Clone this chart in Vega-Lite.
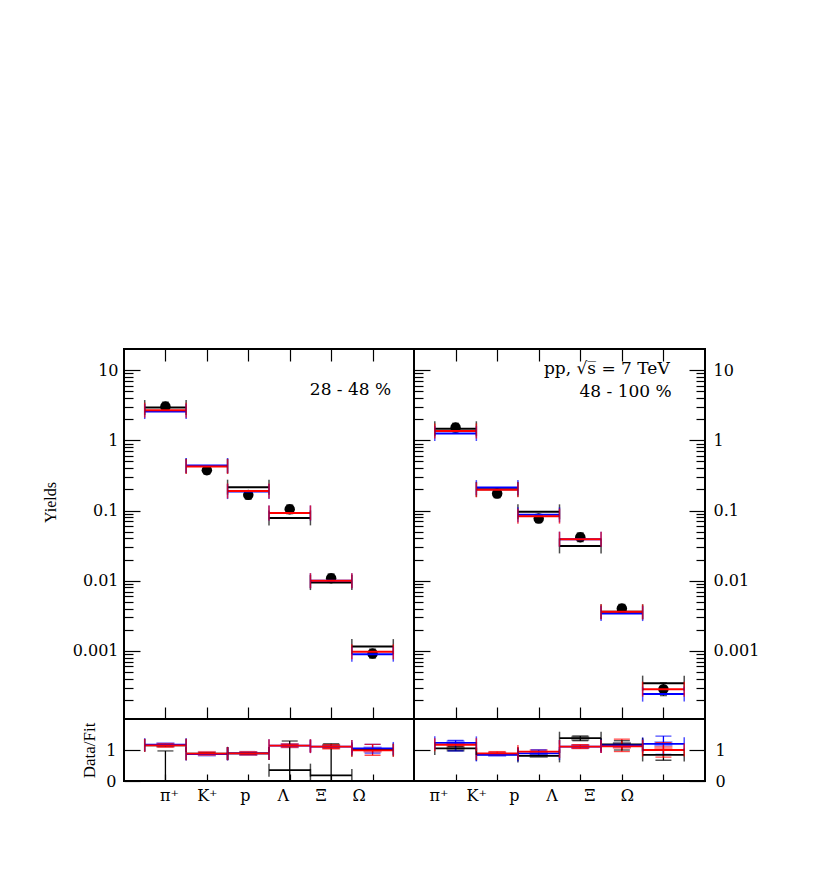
{
  "$schema": "https://vega.github.io/schema/vega-lite/v6.json",
  "padding": {"left": 41, "top": 347, "right": 5, "bottom": 5},
  "background": "white",
  "config": {
    "view": {"stroke": "black", "strokeWidth": 2},
    "axis": {"domain": false, "grid": false, "labelFont": "DejaVu Serif", "labelFontSize": 16, "labelColor": "black", "tickColor": "black", "tickWidth": 1.2, "titleFont": "Liberation Serif", "titleFontSize": 16, "titleFontWeight": "normal", "titleColor": "black", "labelOverlap": false, "labelFlush": false, "labelBound": false},
    "text": {"font": "DejaVu Serif"}
  },
  "datasets": {
    "fits": [
      {"p": "L", "m": "k", "i": 1, "lo": 0.5, "hi": 1.5, "v": 2.93},
      {"p": "L", "m": "b", "i": 1, "lo": 0.5, "hi": 1.5, "v": 2.57},
      {"p": "L", "m": "r", "i": 1, "lo": 0.5, "hi": 1.5, "v": 2.69},
      {"p": "L", "m": "k", "i": 2, "lo": 1.5, "hi": 2.5, "v": 0.43},
      {"p": "L", "m": "b", "i": 2, "lo": 1.5, "hi": 2.5, "v": 0.436},
      {"p": "L", "m": "r", "i": 2, "lo": 1.5, "hi": 2.5, "v": 0.423},
      {"p": "L", "m": "k", "i": 3, "lo": 2.5, "hi": 3.5, "v": 0.215},
      {"p": "L", "m": "b", "i": 3, "lo": 2.5, "hi": 3.5, "v": 0.186},
      {"p": "L", "m": "r", "i": 3, "lo": 2.5, "hi": 3.5, "v": 0.19},
      {"p": "L", "m": "k", "i": 4, "lo": 3.5, "hi": 4.5, "v": 0.0785},
      {"p": "L", "m": "b", "i": 4, "lo": 3.5, "hi": 4.5, "v": 0.092},
      {"p": "L", "m": "r", "i": 4, "lo": 3.5, "hi": 4.5, "v": 0.0925},
      {"p": "L", "m": "k", "i": 5, "lo": 4.5, "hi": 5.5, "v": 0.0094},
      {"p": "L", "m": "b", "i": 5, "lo": 4.5, "hi": 5.5, "v": 0.01},
      {"p": "L", "m": "r", "i": 5, "lo": 4.5, "hi": 5.5, "v": 0.01},
      {"p": "L", "m": "k", "i": 6, "lo": 5.5, "hi": 6.5, "v": 0.00115},
      {"p": "L", "m": "b", "i": 6, "lo": 5.5, "hi": 6.5, "v": 0.000897},
      {"p": "L", "m": "r", "i": 6, "lo": 5.5, "hi": 6.5, "v": 0.00097},
      {"p": "R", "m": "k", "i": 1, "lo": 0.5, "hi": 1.5, "v": 1.46},
      {"p": "R", "m": "b", "i": 1, "lo": 0.5, "hi": 1.5, "v": 1.25},
      {"p": "R", "m": "r", "i": 1, "lo": 0.5, "hi": 1.5, "v": 1.36},
      {"p": "R", "m": "k", "i": 2, "lo": 1.5, "hi": 2.5, "v": 0.2},
      {"p": "R", "m": "b", "i": 2, "lo": 1.5, "hi": 2.5, "v": 0.212},
      {"p": "R", "m": "r", "i": 2, "lo": 1.5, "hi": 2.5, "v": 0.197},
      {"p": "R", "m": "k", "i": 3, "lo": 2.5, "hi": 3.5, "v": 0.0957},
      {"p": "R", "m": "b", "i": 3, "lo": 2.5, "hi": 3.5, "v": 0.0867},
      {"p": "R", "m": "r", "i": 3, "lo": 2.5, "hi": 3.5, "v": 0.083},
      {"p": "R", "m": "k", "i": 4, "lo": 3.5, "hi": 4.5, "v": 0.0313},
      {"p": "R", "m": "b", "i": 4, "lo": 3.5, "hi": 4.5, "v": 0.039},
      {"p": "R", "m": "r", "i": 4, "lo": 3.5, "hi": 4.5, "v": 0.039},
      {"p": "R", "m": "k", "i": 5, "lo": 4.5, "hi": 5.5, "v": 0.0036},
      {"p": "R", "m": "b", "i": 5, "lo": 4.5, "hi": 5.5, "v": 0.0034},
      {"p": "R", "m": "r", "i": 5, "lo": 4.5, "hi": 5.5, "v": 0.0036},
      {"p": "R", "m": "k", "i": 6, "lo": 5.5, "hi": 6.5, "v": 0.000347},
      {"p": "R", "m": "b", "i": 6, "lo": 5.5, "hi": 6.5, "v": 0.000242},
      {"p": "R", "m": "r", "i": 6, "lo": 5.5, "hi": 6.5, "v": 0.000285}
    ],
    "pts": [
      {"p": "L", "i": 1, "v": 3.03, "el": 2.6, "eh": 3.5},
      {"p": "L", "i": 2, "v": 0.376, "el": 0.33, "eh": 0.43},
      {"p": "L", "i": 3, "v": 0.167, "el": 0.145, "eh": 0.19},
      {"p": "L", "i": 4, "v": 0.1045, "el": 0.09, "eh": 0.12},
      {"p": "L", "i": 5, "v": 0.01087, "el": 0.0095, "eh": 0.0125},
      {"p": "L", "i": 6, "v": 0.000916, "el": 0.00079, "eh": 0.00106},
      {"p": "R", "i": 1, "v": 1.52, "el": 1.32, "eh": 1.75},
      {"p": "R", "i": 2, "v": 0.1746, "el": 0.152, "eh": 0.2},
      {"p": "R", "i": 3, "v": 0.0767, "el": 0.067, "eh": 0.088},
      {"p": "R", "i": 4, "v": 0.0417, "el": 0.036, "eh": 0.048},
      {"p": "R", "i": 5, "v": 0.00401, "el": 0.0035, "eh": 0.0046},
      {"p": "R", "i": 6, "v": 0.000285, "el": 0.00023, "eh": 0.00035}
    ],
    "ratio": [
      {"p": "L", "m": "k", "i": 1, "lo": 0.5, "hi": 1.5, "r": 1.15},
      {"p": "L", "m": "b", "i": 1, "lo": 0.5, "hi": 1.5, "r": 1.17},
      {"p": "L", "m": "r", "i": 1, "lo": 0.5, "hi": 1.5, "r": 1.15},
      {"p": "L", "m": "k", "i": 2, "lo": 1.5, "hi": 2.5, "r": 0.88},
      {"p": "L", "m": "b", "i": 2, "lo": 1.5, "hi": 2.5, "r": 0.87},
      {"p": "L", "m": "r", "i": 2, "lo": 1.5, "hi": 2.5, "r": 0.88},
      {"p": "L", "m": "k", "i": 3, "lo": 2.5, "hi": 3.5, "r": 0.89},
      {"p": "L", "m": "b", "i": 3, "lo": 2.5, "hi": 3.5, "r": 0.89},
      {"p": "L", "m": "r", "i": 3, "lo": 2.5, "hi": 3.5, "r": 0.89},
      {"p": "L", "m": "k", "i": 4, "lo": 3.5, "hi": 4.5, "r": 0.35},
      {"p": "L", "m": "b", "i": 4, "lo": 3.5, "hi": 4.5, "r": 1.14},
      {"p": "L", "m": "r", "i": 4, "lo": 3.5, "hi": 4.5, "r": 1.14},
      {"p": "L", "m": "k", "i": 5, "lo": 4.5, "hi": 5.5, "r": 0.18},
      {"p": "L", "m": "b", "i": 5, "lo": 4.5, "hi": 5.5, "r": 1.11},
      {"p": "L", "m": "r", "i": 5, "lo": 4.5, "hi": 5.5, "r": 1.11},
      {"p": "L", "m": "k", "i": 6, "lo": 5.5, "hi": 6.5, "r": 1.0},
      {"p": "L", "m": "b", "i": 6, "lo": 5.5, "hi": 6.5, "r": 1.05},
      {"p": "L", "m": "r", "i": 6, "lo": 5.5, "hi": 6.5, "r": 0.99},
      {"p": "R", "m": "k", "i": 1, "lo": 0.5, "hi": 1.5, "r": 1.05},
      {"p": "R", "m": "b", "i": 1, "lo": 0.5, "hi": 1.5, "r": 1.23},
      {"p": "R", "m": "r", "i": 1, "lo": 0.5, "hi": 1.5, "r": 1.17},
      {"p": "R", "m": "k", "i": 2, "lo": 1.5, "hi": 2.5, "r": 0.86},
      {"p": "R", "m": "b", "i": 2, "lo": 1.5, "hi": 2.5, "r": 0.84},
      {"p": "R", "m": "r", "i": 2, "lo": 1.5, "hi": 2.5, "r": 0.89},
      {"p": "R", "m": "k", "i": 3, "lo": 2.5, "hi": 3.5, "r": 0.81},
      {"p": "R", "m": "b", "i": 3, "lo": 2.5, "hi": 3.5, "r": 0.89},
      {"p": "R", "m": "r", "i": 3, "lo": 2.5, "hi": 3.5, "r": 0.95},
      {"p": "R", "m": "k", "i": 4, "lo": 3.5, "hi": 4.5, "r": 1.38},
      {"p": "R", "m": "b", "i": 4, "lo": 3.5, "hi": 4.5, "r": 1.11},
      {"p": "R", "m": "r", "i": 4, "lo": 3.5, "hi": 4.5, "r": 1.11},
      {"p": "R", "m": "k", "i": 5, "lo": 4.5, "hi": 5.5, "r": 1.18},
      {"p": "R", "m": "b", "i": 5, "lo": 4.5, "hi": 5.5, "r": 1.15},
      {"p": "R", "m": "r", "i": 5, "lo": 4.5, "hi": 5.5, "r": 1.12},
      {"p": "R", "m": "k", "i": 6, "lo": 5.5, "hi": 6.5, "r": 0.84},
      {"p": "R", "m": "b", "i": 6, "lo": 5.5, "hi": 6.5, "r": 1.2},
      {"p": "R", "m": "r", "i": 6, "lo": 5.5, "hi": 6.5, "r": 1.0}
    ],
    "boxes": [
      {"p": "L", "m": "b", "i": 1, "c": 1.17},
      {"p": "L", "m": "r", "i": 1, "c": 1.15},
      {"p": "L", "m": "b", "i": 2, "c": 0.87},
      {"p": "L", "m": "r", "i": 2, "c": 0.89},
      {"p": "L", "m": "b", "i": 3, "c": 0.89},
      {"p": "L", "m": "r", "i": 3, "c": 0.89},
      {"p": "L", "m": "b", "i": 4, "c": 1.14},
      {"p": "L", "m": "r", "i": 4, "c": 1.14},
      {"p": "L", "m": "k", "i": 5, "c": 1.12},
      {"p": "L", "m": "r", "i": 5, "c": 1.09},
      {"p": "L", "m": "b", "i": 6, "c": 1.03},
      {"p": "L", "m": "r", "i": 6, "c": 0.99},
      {"p": "R", "m": "k", "i": 1, "c": 1.03},
      {"p": "R", "m": "b", "i": 1, "c": 1.23},
      {"p": "R", "m": "r", "i": 1, "c": 1.17},
      {"p": "R", "m": "b", "i": 2, "c": 0.86},
      {"p": "R", "m": "r", "i": 2, "c": 0.89},
      {"p": "R", "m": "k", "i": 3, "c": 0.82},
      {"p": "R", "m": "b", "i": 3, "c": 0.89},
      {"p": "R", "m": "r", "i": 3, "c": 0.95},
      {"p": "R", "m": "k", "i": 4, "c": 1.38},
      {"p": "R", "m": "b", "i": 4, "c": 1.11},
      {"p": "R", "m": "r", "i": 4, "c": 1.11},
      {"p": "R", "m": "k", "i": 5, "c": 1.18},
      {"p": "R", "m": "b", "i": 5, "c": 1.15},
      {"p": "R", "m": "r", "i": 5, "c": 1.12},
      {"p": "R", "m": "b", "i": 6, "c": 1.2},
      {"p": "R", "m": "r", "i": 6, "c": 1.05}
    ],
    "errs": [
      {"p": "L", "m": "k", "i": 1, "el": 0, "eh": 0.97},
      {"p": "L", "m": "r", "i": 1, "el": 1.1, "eh": 1.2},
      {"p": "L", "m": "r", "i": 2, "el": 0.85, "eh": 0.92},
      {"p": "L", "m": "r", "i": 3, "el": 0.86, "eh": 0.93},
      {"p": "L", "m": "k", "i": 4, "el": 0, "eh": 1.29},
      {"p": "L", "m": "r", "i": 4, "el": 1.1, "eh": 1.18},
      {"p": "L", "m": "k", "i": 5, "el": 0, "eh": 1.2},
      {"p": "L", "m": "r", "i": 5, "el": 1.05, "eh": 1.17},
      {"p": "L", "m": "b", "i": 6, "el": 0.9, "eh": 1.18},
      {"p": "L", "m": "r", "i": 6, "el": 0.83, "eh": 1.18},
      {"p": "R", "m": "k", "i": 1, "el": 0.98, "eh": 1.12},
      {"p": "R", "m": "b", "i": 1, "el": 0.97, "eh": 1.31},
      {"p": "R", "m": "r", "i": 2, "el": 0.84, "eh": 0.94},
      {"p": "R", "m": "b", "i": 3, "el": 0.82, "eh": 1.0},
      {"p": "R", "m": "k", "i": 4, "el": 1.3, "eh": 1.45},
      {"p": "R", "m": "r", "i": 4, "el": 1.05, "eh": 1.17},
      {"p": "R", "m": "k", "i": 5, "el": 1.0, "eh": 1.3},
      {"p": "R", "m": "r", "i": 5, "el": 0.95, "eh": 1.35},
      {"p": "R", "m": "k", "i": 6, "el": 0.67, "eh": 1.0},
      {"p": "R", "m": "b", "i": 6, "el": 0.86, "eh": 1.45},
      {"p": "R", "m": "r", "i": 6, "el": 0.77, "eh": 1.24}
    ]
  },
  "spacing": 0,
  "bounds": "flush",
  "columns": 2,
  "concat": [
    {
      "width": 290,
      "height": 370,
      "resolve": {"axis": {"x": "independent", "y": "independent"}},
      "layer": [
        {
          "data": {"name": "pts"},
          "transform": [{"filter": "datum.p == 'L'"}],
          "mark": {"type": "rule", "color": "black", "strokeWidth": 1.2, "clip": true},
          "encoding": {
            "x": {"field": "i", "type": "quantitative", "scale": {"domain": [0, 7], "nice": false, "zero": false}, "axis": {"orient": "top", "values": [1, 2, 3, 4, 5, 6], "labels": false, "tickSize": -12, "title": null}},
            "y": {"field": "el", "type": "quantitative", "scale": {"type": "log", "domain": [0.000107, 20], "nice": false}, "axis": {"orient": "left", "values": [0.001, 0.01, 0.1, 1, 10], "format": "~g", "tickSize": -16, "labelPadding": 22, "title": "Yields", "titleX": -74, "titleY": 153, "titleAngle": -90, "titleAlign": "center", "titleBaseline": "middle", "titleFontSize": 16}},
            "y2": {"field": "eh"}
          }
        },
        {
          "data": {"name": "pts"},
          "transform": [{"filter": "datum.p == 'L'"}, {"fold": ["el", "eh"], "as": ["k", "val"]}],
          "mark": {"type": "tick", "orient": "horizontal", "color": "black", "size": 7, "thickness": 1.2, "clip": true},
          "encoding": {
            "x": {"field": "i", "type": "quantitative", "scale": {"domain": [0, 7], "nice": false, "zero": false}, "axis": {"orient": "bottom", "values": [1, 2, 3, 4, 5, 6], "labels": false, "tickSize": -12, "title": null}},
            "y": {"field": "val", "type": "quantitative", "scale": {"type": "log", "domain": [0.000107, 20], "nice": false}, "axis": {"orient": "left", "values": [0.0002, 0.0003, 0.0004, 0.0005, 0.0006, 0.0007, 0.0008, 0.0009, 0.002, 0.003, 0.004, 0.005, 0.006, 0.007, 0.008, 0.009, 0.02, 0.03, 0.04, 0.05, 0.06, 0.07, 0.08, 0.09, 0.2, 0.3, 0.4, 0.5, 0.6, 0.7, 0.8, 0.9, 2, 3, 4, 5, 6, 7, 8, 9], "labels": false, "tickSize": -9, "title": null}}
          }
        },
        {
          "data": {"name": "pts"},
          "transform": [{"filter": "datum.p == 'L'"}],
          "mark": {"type": "circle", "color": "black", "size": 110, "opacity": 1},
          "encoding": {
            "x": {"field": "i", "type": "quantitative", "scale": {"domain": [0, 7], "nice": false, "zero": false}, "axis": null},
            "y": {"field": "v", "type": "quantitative", "scale": {"type": "log", "domain": [0.000107, 20], "nice": false}, "axis": null}
          }
        },
        {
          "data": {"name": "fits"},
          "transform": [{"filter": "datum.p == 'L'"}],
          "mark": {"type": "rule", "strokeWidth": 2},
          "encoding": {
            "x": {"field": "lo", "type": "quantitative", "scale": {"domain": [0, 7], "nice": false, "zero": false}, "axis": null},
            "x2": {"field": "hi"},
            "y": {"field": "v", "type": "quantitative", "scale": {"type": "log", "domain": [0.000107, 20], "nice": false}, "axis": null},
            "color": {"field": "m", "type": "nominal", "scale": {"domain": ["k", "b", "r"], "range": ["#000000", "#0000ff", "#ff0000"]}, "legend": null}
          }
        },
        {
          "data": {"name": "fits"},
          "transform": [{"filter": "datum.p == 'L'"}],
          "mark": {"type": "tick", "orient": "vertical", "size": 15, "thickness": 1.5},
          "encoding": {
            "x": {"field": "lo", "type": "quantitative", "scale": {"domain": [0, 7], "nice": false, "zero": false}, "axis": null},
            "y": {"field": "v", "type": "quantitative", "scale": {"type": "log", "domain": [0.000107, 20], "nice": false}, "axis": null},
            "color": {"field": "m", "type": "nominal", "scale": {"domain": ["k", "b", "r"], "range": ["#000000", "#0000ff", "#ff0000"]}, "legend": null}
          }
        },
        {
          "data": {"name": "fits"},
          "transform": [{"filter": "datum.p == 'L'"}],
          "mark": {"type": "tick", "orient": "vertical", "size": 15, "thickness": 1.5},
          "encoding": {
            "x": {"field": "hi", "type": "quantitative", "scale": {"domain": [0, 7], "nice": false, "zero": false}, "axis": null},
            "y": {"field": "v", "type": "quantitative", "scale": {"type": "log", "domain": [0.000107, 20], "nice": false}, "axis": null},
            "color": {"field": "m", "type": "nominal", "scale": {"domain": ["k", "b", "r"], "range": ["#000000", "#0000ff", "#ff0000"]}, "legend": null}
          }
        },
        {
          "data": {"values": [{}]},
          "mark": {"type": "text", "text": "28 - 48 %", "align": "right", "baseline": "middle", "fontSize": 17, "color": "black"},
          "encoding": {
            "x": {"datum": 6.45, "type": "quantitative", "scale": {"domain": [0, 7], "nice": false, "zero": false}, "axis": null},
            "y": {"datum": 5.2, "type": "quantitative", "scale": {"type": "log", "domain": [0.000107, 20], "nice": false}, "axis": null}
          }
        }
      ]
    },
    {
      "width": 291,
      "height": 370,
      "resolve": {"axis": {"x": "independent", "y": "independent"}},
      "layer": [
        {
          "data": {"name": "pts"},
          "transform": [{"filter": "datum.p == 'R'"}],
          "mark": {"type": "rule", "color": "black", "strokeWidth": 1.2, "clip": true},
          "encoding": {
            "x": {"field": "i", "type": "quantitative", "scale": {"domain": [0, 7], "nice": false, "zero": false}, "axis": {"orient": "top", "values": [1, 2, 3, 4, 5, 6], "labels": false, "tickSize": -12, "title": null}},
            "y": {"field": "el", "type": "quantitative", "scale": {"type": "log", "domain": [0.000107, 20], "nice": false}, "axis": {"orient": "right", "values": [0.001, 0.01, 0.1, 1, 10], "format": "~g", "tickSize": -16, "labelPadding": 24, "title": null}},
            "y2": {"field": "eh"}
          }
        },
        {
          "data": {"name": "pts"},
          "transform": [{"filter": "datum.p == 'R'"}, {"fold": ["el", "eh"], "as": ["k", "val"]}],
          "mark": {"type": "tick", "orient": "horizontal", "color": "black", "size": 7, "thickness": 1.2, "clip": true},
          "encoding": {
            "x": {"field": "i", "type": "quantitative", "scale": {"domain": [0, 7], "nice": false, "zero": false}, "axis": {"orient": "bottom", "values": [1, 2, 3, 4, 5, 6], "labels": false, "tickSize": -12, "title": null}},
            "y": {"field": "val", "type": "quantitative", "scale": {"type": "log", "domain": [0.000107, 20], "nice": false}, "axis": {"orient": "left", "values": [0.0002, 0.0003, 0.0004, 0.0005, 0.0006, 0.0007, 0.0008, 0.0009, 0.002, 0.003, 0.004, 0.005, 0.006, 0.007, 0.008, 0.009, 0.02, 0.03, 0.04, 0.05, 0.06, 0.07, 0.08, 0.09, 0.2, 0.3, 0.4, 0.5, 0.6, 0.7, 0.8, 0.9, 2, 3, 4, 5, 6, 7, 8, 9], "labels": false, "tickSize": -9, "title": null}}
          }
        },
        {
          "data": {"name": "pts"},
          "transform": [{"filter": "datum.p == 'R'"}],
          "mark": {"type": "circle", "color": "black", "size": 110, "opacity": 1},
          "encoding": {
            "x": {"field": "i", "type": "quantitative", "scale": {"domain": [0, 7], "nice": false, "zero": false}, "axis": null},
            "y": {"field": "v", "type": "quantitative", "scale": {"type": "log", "domain": [0.000107, 20], "nice": false}, "axis": {"orient": "left", "values": [0.001, 0.01, 0.1, 1, 10], "labels": false, "tickSize": -16, "title": null}}
          }
        },
        {
          "data": {"name": "fits"},
          "transform": [{"filter": "datum.p == 'R'"}],
          "mark": {"type": "rule", "strokeWidth": 2},
          "encoding": {
            "x": {"field": "lo", "type": "quantitative", "scale": {"domain": [0, 7], "nice": false, "zero": false}, "axis": null},
            "x2": {"field": "hi"},
            "y": {"field": "v", "type": "quantitative", "scale": {"type": "log", "domain": [0.000107, 20], "nice": false}, "axis": {"orient": "right", "values": [0.0002, 0.0003, 0.0004, 0.0005, 0.0006, 0.0007, 0.0008, 0.0009, 0.002, 0.003, 0.004, 0.005, 0.006, 0.007, 0.008, 0.009, 0.02, 0.03, 0.04, 0.05, 0.06, 0.07, 0.08, 0.09, 0.2, 0.3, 0.4, 0.5, 0.6, 0.7, 0.8, 0.9, 2, 3, 4, 5, 6, 7, 8, 9], "labels": false, "tickSize": -9, "title": null}},
            "color": {"field": "m", "type": "nominal", "scale": {"domain": ["k", "b", "r"], "range": ["#000000", "#0000ff", "#ff0000"]}, "legend": null}
          }
        },
        {
          "data": {"name": "fits"},
          "transform": [{"filter": "datum.p == 'R'"}],
          "mark": {"type": "tick", "orient": "vertical", "size": 15, "thickness": 1.5},
          "encoding": {
            "x": {"field": "lo", "type": "quantitative", "scale": {"domain": [0, 7], "nice": false, "zero": false}, "axis": null},
            "y": {"field": "v", "type": "quantitative", "scale": {"type": "log", "domain": [0.000107, 20], "nice": false}, "axis": null},
            "color": {"field": "m", "type": "nominal", "scale": {"domain": ["k", "b", "r"], "range": ["#000000", "#0000ff", "#ff0000"]}, "legend": null}
          }
        },
        {
          "data": {"name": "fits"},
          "transform": [{"filter": "datum.p == 'R'"}],
          "mark": {"type": "tick", "orient": "vertical", "size": 15, "thickness": 1.5},
          "encoding": {
            "x": {"field": "hi", "type": "quantitative", "scale": {"domain": [0, 7], "nice": false, "zero": false}, "axis": null},
            "y": {"field": "v", "type": "quantitative", "scale": {"type": "log", "domain": [0.000107, 20], "nice": false}, "axis": null},
            "color": {"field": "m", "type": "nominal", "scale": {"domain": ["k", "b", "r"], "range": ["#000000", "#0000ff", "#ff0000"]}, "legend": null}
          }
        },
        {
          "data": {"values": [{}]},
          "mark": {"type": "text", "text": "pp, √s̅ = 7 TeV", "align": "right", "baseline": "middle", "fontSize": 17, "color": "black"},
          "encoding": {
            "x": {"datum": 6.15, "type": "quantitative", "scale": {"domain": [0, 7], "nice": false, "zero": false}, "axis": null},
            "y": {"datum": 10.4, "type": "quantitative", "scale": {"type": "log", "domain": [0.000107, 20], "nice": false}, "axis": null}
          }
        },
        {
          "data": {"values": [{}]},
          "mark": {"type": "text", "text": "48 - 100 %", "align": "right", "baseline": "middle", "fontSize": 17, "color": "black"},
          "encoding": {
            "x": {"datum": 6.2, "type": "quantitative", "scale": {"domain": [0, 7], "nice": false, "zero": false}, "axis": null},
            "y": {"datum": 4.9, "type": "quantitative", "scale": {"type": "log", "domain": [0.000107, 20], "nice": false}, "axis": null}
          }
        }
      ]
    },
    {
      "width": 290,
      "height": 62,
      "resolve": {"axis": {"x": "independent", "y": "independent"}},
      "layer": [
        {
          "data": {"name": "boxes"},
          "transform": [{"filter": "datum.p == 'L'"}],
          "mark": {"type": "tick", "orient": "horizontal", "size": 18, "thickness": 5, "opacity": 0.45},
          "encoding": {
            "x": {"field": "i", "type": "quantitative", "scale": {"domain": [0, 7], "nice": false, "zero": false}, "axis": {"orient": "bottom", "values": [1, 2, 3, 4, 5, 6], "labelExpr": "['', 'π⁺', 'K⁺', 'p', 'Λ', 'Ξ', 'Ω'][datum.value]", "labelOffset": {"expr": "3.5 - 3.5*(datum.value-1)"}, "tickSize": -7, "labelPadding": 13, "title": null}},
            "y": {"field": "c", "type": "quantitative", "scale": {"domain": [0, 2], "nice": false, "zero": false}, "axis": {"orient": "left", "values": [0, 1], "tickSize": -16, "labelPadding": 24, "title": "Data/Fit", "titleX": -35, "titleY": 31, "titleAngle": -90, "titleAlign": "center", "titleBaseline": "middle", "titleFontSize": 17}},
            "color": {"field": "m", "type": "nominal", "scale": {"domain": ["k", "b", "r"], "range": ["#000000", "#0000ff", "#ff0000"]}, "legend": null}
          }
        },
        {
          "data": {"name": "errs"},
          "transform": [{"filter": "datum.p == 'L'"}],
          "mark": {"type": "rule", "strokeWidth": 1.3, "clip": true},
          "encoding": {
            "x": {"field": "i", "type": "quantitative", "scale": {"domain": [0, 7], "nice": false, "zero": false}, "axis": null},
            "y": {"field": "el", "type": "quantitative", "scale": {"domain": [0, 2], "nice": false, "zero": false}, "axis": null},
            "y2": {"field": "eh"},
            "color": {"field": "m", "type": "nominal", "scale": {"domain": ["k", "b", "r"], "range": ["#000000", "#0000ff", "#ff0000"]}, "legend": null}
          }
        },
        {
          "data": {"name": "errs"},
          "transform": [{"filter": "datum.p == 'L'"}, {"fold": ["el", "eh"], "as": ["k", "val"]}],
          "mark": {"type": "tick", "orient": "horizontal", "size": 16, "thickness": 1.3, "clip": true},
          "encoding": {
            "x": {"field": "i", "type": "quantitative", "scale": {"domain": [0, 7], "nice": false, "zero": false}, "axis": null},
            "y": {"field": "val", "type": "quantitative", "scale": {"domain": [0, 2], "nice": false, "zero": false}, "axis": null},
            "color": {"field": "m", "type": "nominal", "scale": {"domain": ["k", "b", "r"], "range": ["#000000", "#0000ff", "#ff0000"]}, "legend": null}
          }
        },
        {
          "data": {"name": "ratio"},
          "transform": [{"filter": "datum.p == 'L'"}],
          "mark": {"type": "rule", "strokeWidth": 1.8},
          "encoding": {
            "x": {"field": "lo", "type": "quantitative", "scale": {"domain": [0, 7], "nice": false, "zero": false}, "axis": null},
            "x2": {"field": "hi"},
            "y": {"field": "r", "type": "quantitative", "scale": {"domain": [0, 2], "nice": false, "zero": false}, "axis": null},
            "color": {"field": "m", "type": "nominal", "scale": {"domain": ["k", "b", "r"], "range": ["#000000", "#0000ff", "#ff0000"]}, "legend": null}
          }
        },
        {
          "data": {"name": "ratio"},
          "transform": [{"filter": "datum.p == 'L'"}],
          "mark": {"type": "tick", "orient": "vertical", "size": 13, "thickness": 1.5},
          "encoding": {
            "x": {"field": "lo", "type": "quantitative", "scale": {"domain": [0, 7], "nice": false, "zero": false}, "axis": null},
            "y": {"field": "r", "type": "quantitative", "scale": {"domain": [0, 2], "nice": false, "zero": false}, "axis": null},
            "color": {"field": "m", "type": "nominal", "scale": {"domain": ["k", "b", "r"], "range": ["#000000", "#0000ff", "#ff0000"]}, "legend": null}
          }
        },
        {
          "data": {"name": "ratio"},
          "transform": [{"filter": "datum.p == 'L'"}],
          "mark": {"type": "tick", "orient": "vertical", "size": 13, "thickness": 1.5},
          "encoding": {
            "x": {"field": "hi", "type": "quantitative", "scale": {"domain": [0, 7], "nice": false, "zero": false}, "axis": null},
            "y": {"field": "r", "type": "quantitative", "scale": {"domain": [0, 2], "nice": false, "zero": false}, "axis": null},
            "color": {"field": "m", "type": "nominal", "scale": {"domain": ["k", "b", "r"], "range": ["#000000", "#0000ff", "#ff0000"]}, "legend": null}
          }
        }
      ]
    },
    {
      "width": 291,
      "height": 62,
      "resolve": {"axis": {"x": "independent", "y": "independent"}},
      "layer": [
        {
          "data": {"name": "boxes"},
          "transform": [{"filter": "datum.p == 'R'"}],
          "mark": {"type": "tick", "orient": "horizontal", "size": 18, "thickness": 5, "opacity": 0.45},
          "encoding": {
            "x": {"field": "i", "type": "quantitative", "scale": {"domain": [0, 7], "nice": false, "zero": false}, "axis": {"orient": "bottom", "values": [1, 2, 3, 4, 5, 6], "labelExpr": "['', 'π⁺', 'K⁺', 'p', 'Λ', 'Ξ', 'Ω'][datum.value]", "labelOffset": {"expr": "-17 - 3.9*(datum.value-1)"}, "tickSize": -7, "labelPadding": 13, "title": null}},
            "y": {"field": "c", "type": "quantitative", "scale": {"domain": [0, 2], "nice": false, "zero": false}, "axis": {"orient": "right", "values": [0, 1], "tickSize": -16, "labelPadding": 26, "title": null}},
            "color": {"field": "m", "type": "nominal", "scale": {"domain": ["k", "b", "r"], "range": ["#000000", "#0000ff", "#ff0000"]}, "legend": null}
          }
        },
        {
          "data": {"name": "errs"},
          "transform": [{"filter": "datum.p == 'R'"}],
          "mark": {"type": "rule", "strokeWidth": 1.3, "clip": true},
          "encoding": {
            "x": {"field": "i", "type": "quantitative", "scale": {"domain": [0, 7], "nice": false, "zero": false}, "axis": null},
            "y": {"field": "el", "type": "quantitative", "scale": {"domain": [0, 2], "nice": false, "zero": false}, "axis": {"orient": "left", "values": [1], "labels": false, "tickSize": -16, "title": null}},
            "y2": {"field": "eh"},
            "color": {"field": "m", "type": "nominal", "scale": {"domain": ["k", "b", "r"], "range": ["#000000", "#0000ff", "#ff0000"]}, "legend": null}
          }
        },
        {
          "data": {"name": "errs"},
          "transform": [{"filter": "datum.p == 'R'"}, {"fold": ["el", "eh"], "as": ["k", "val"]}],
          "mark": {"type": "tick", "orient": "horizontal", "size": 16, "thickness": 1.3, "clip": true},
          "encoding": {
            "x": {"field": "i", "type": "quantitative", "scale": {"domain": [0, 7], "nice": false, "zero": false}, "axis": null},
            "y": {"field": "val", "type": "quantitative", "scale": {"domain": [0, 2], "nice": false, "zero": false}, "axis": null},
            "color": {"field": "m", "type": "nominal", "scale": {"domain": ["k", "b", "r"], "range": ["#000000", "#0000ff", "#ff0000"]}, "legend": null}
          }
        },
        {
          "data": {"name": "ratio"},
          "transform": [{"filter": "datum.p == 'R'"}],
          "mark": {"type": "rule", "strokeWidth": 1.8},
          "encoding": {
            "x": {"field": "lo", "type": "quantitative", "scale": {"domain": [0, 7], "nice": false, "zero": false}, "axis": null},
            "x2": {"field": "hi"},
            "y": {"field": "r", "type": "quantitative", "scale": {"domain": [0, 2], "nice": false, "zero": false}, "axis": null},
            "color": {"field": "m", "type": "nominal", "scale": {"domain": ["k", "b", "r"], "range": ["#000000", "#0000ff", "#ff0000"]}, "legend": null}
          }
        },
        {
          "data": {"name": "ratio"},
          "transform": [{"filter": "datum.p == 'R'"}],
          "mark": {"type": "tick", "orient": "vertical", "size": 13, "thickness": 1.5},
          "encoding": {
            "x": {"field": "lo", "type": "quantitative", "scale": {"domain": [0, 7], "nice": false, "zero": false}, "axis": null},
            "y": {"field": "r", "type": "quantitative", "scale": {"domain": [0, 2], "nice": false, "zero": false}, "axis": null},
            "color": {"field": "m", "type": "nominal", "scale": {"domain": ["k", "b", "r"], "range": ["#000000", "#0000ff", "#ff0000"]}, "legend": null}
          }
        },
        {
          "data": {"name": "ratio"},
          "transform": [{"filter": "datum.p == 'R'"}],
          "mark": {"type": "tick", "orient": "vertical", "size": 13, "thickness": 1.5},
          "encoding": {
            "x": {"field": "hi", "type": "quantitative", "scale": {"domain": [0, 7], "nice": false, "zero": false}, "axis": null},
            "y": {"field": "r", "type": "quantitative", "scale": {"domain": [0, 2], "nice": false, "zero": false}, "axis": null},
            "color": {"field": "m", "type": "nominal", "scale": {"domain": ["k", "b", "r"], "range": ["#000000", "#0000ff", "#ff0000"]}, "legend": null}
          }
        }
      ]
    }
  ]
}
